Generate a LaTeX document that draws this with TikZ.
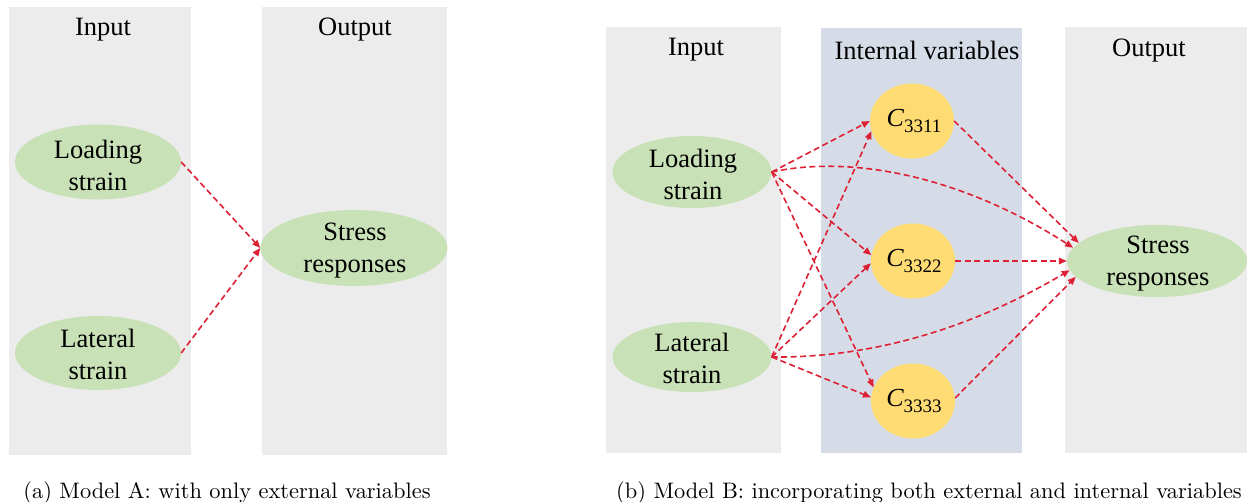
\documentclass[tikz,border=0pt]{standalone}
\usepackage{fontspec}
\usepackage{graphicx}
\newfontfamily\tnr{Liberation Serif}
\usetikzlibrary{arrows.meta,shapes.geometric}

\definecolor{colgray}{RGB}{236,236,236}
\definecolor{colblue}{RGB}{214,220,231}
\definecolor{nodegreen}{RGB}{200,225,182}
\definecolor{nodeyellow}{RGB}{255,220,115}
\definecolor{linkred}{RGB}{222,32,52}

\newcommand{\cvar}[1]{{\fontsize{26}{26}\selectfont\itshape C}\raisebox{-6pt}{\fontsize{19}{19}\selectfont #1}}

\begin{document}
\begin{tikzpicture}[x=1pt,y=-1pt,
  ellnode/.style={ellipse,fill=nodegreen,draw=none,inner sep=0pt},
  varnode/.style={ellipse,fill=nodeyellow,draw=none,minimum width=84pt,minimum height=75pt,inner sep=0pt},
  nodetext/.style={font=\tnr\fontsize{26.5}{32}\selectfont,align=center,inner sep=0pt},
  link/.style={draw=linkred,line width=1.6pt,dash pattern=on 6pt off 3.5pt,
    -{Triangle[length=8pt,width=6.5pt]}},
  captext/.style={inner sep=0pt,anchor=base}
]
\useasboundingbox (0,0) rectangle (1247,501);
\fill[white] (0,0) rectangle (1247,501);

% ---------- (a) Model A ----------
\fill[colgray] (9,7) rectangle (191,455);
\fill[colgray] (262,7) rectangle (447,455);
\node[nodetext] (inA) at (103,30) {Input};
\node[nodetext] (outA) at (355,30) {Output};

\node[ellnode,minimum width=166pt,minimum height=75pt] (la) at (98,162) {};
\node[ellnode,minimum width=166pt,minimum height=74pt] (lb) at (98,353) {};
\node[ellnode,minimum width=187pt,minimum height=76pt] (sa) at (354,248) {};
\node[nodetext] (laT) at (98,165) {Loading\\strain};
\node[nodetext] (lbT) at (98,354) {Lateral\\strain};
\node[nodetext] (saT) at (355,251) {Stress\\responses};

\draw[link] (la.east) -- (sa.west);
\draw[link] (lb.east) -- (sa.west);

\node[captext] (capA) at (227,498)
  {\scalebox{2.24}{(a) Model A: with only external variables}};

% ---------- (b) Model B ----------
\fill[colgray] (606,27) rectangle (781,453);
\fill[colblue] (821,28) rectangle (1022,453);
\fill[colgray] (1065,27) rectangle (1247,453);
\node[nodetext] (inB) at (696,50) {Input};
\node[nodetext] (ivB) at (927,50) {Internal variables};
\node[nodetext] (outB) at (1149,51) {Output};

\node[ellnode,minimum width=159pt,minimum height=72pt] (lsb) at (692,172) {};
\node[ellnode,minimum width=159pt,minimum height=70pt] (ltb) at (692,357) {};
\node[ellnode,minimum width=180pt,minimum height=72pt] (ssb) at (1157,261) {};
\node[nodetext] (lsbT) at (693,174) {Loading\\strain};
\node[nodetext] (ltbT) at (692,358) {Lateral\\strain};
\node[nodetext] (ssbT) at (1158,264) {Stress\\responses};

\node[varnode] (c1) at (912,121) {};
\node[varnode] (c2) at (913,261) {};
\node[varnode] (c3) at (913,401) {};
\node[inner sep=0pt,font=\tnr] (c1T) at (914,121) {\cvar{3311}};
\node[inner sep=0pt,font=\tnr] (c2T) at (914,261) {\cvar{3322}};
\node[inner sep=0pt,font=\tnr] (c3T) at (914,401) {\cvar{3333}};

% loading strain links
\draw[link] (lsb.east) -- (c1.180);
\draw[link] (lsb.east) -- (c2.172);
\draw[link] (lsb.east) -- (c3.161);
\draw[link] (lsb.east) .. controls (850,155) and (960,175) .. (ssb.171);
% lateral strain links
\draw[link] (ltb.east) -- (c1.194);
\draw[link] (ltb.east) -- (c2.183);
\draw[link] (ltb.east) -- (c3.175);
\draw[link] (ltb.east) .. controls (860,358) and (960,335) .. (ssb.186);
% internal variable links
\draw[link] (c1.east) -- (ssb.167);
\draw[link] (c2.east) -- (ssb.west);
\draw[link] (c3.4) -- (ssb.191);

\node[captext] (capB) at (929,498)
  {\scalebox{2.24}{(b) Model B: incorporating both external and internal variables}};
\end{tikzpicture}
\end{document}
